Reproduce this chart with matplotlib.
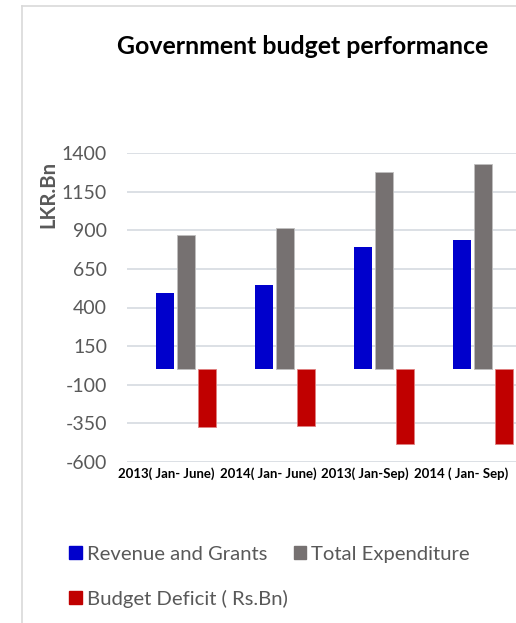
import matplotlib
matplotlib.use("Agg")
import matplotlib.pyplot as plt
from matplotlib.lines import Line2D
from matplotlib.patches import Patch
import numpy as np

categories = ["2013( Jan- June)", "2014( Jan- June)", "2013( Jan-Sep)", "2014 ( Jan- Sep)"]
revenue = [492, 546, 792, 838]
expenditure = [868, 918, 1281, 1329]
deficit = [-373, -368, -487, -485]
yticks = [1400, 1150, 900, 650, 400, 150, -100, -350, -600]

plt.rcParams['font.family'] = ['Lato', 'DejaVu Sans']

W, H = 516, 623
fig = plt.figure(figsize=(W/100, H/100), dpi=100)

def fx(px): return px / W
def fy(py): return 1 - py / H

# chart border
fig.add_artist(Line2D([fx(22), fx(22)], [fy(6), fy(623)], color='#D9D9D9', lw=1.2))
fig.add_artist(Line2D([fx(22), fx(516)], [fy(6), fy(6)], color='#D9D9D9', lw=1.2))

ax = fig.add_axes([fx(127), fy(461.7), fx(516) - fx(127), fy(153.3) - fy(461.7)])
x = np.arange(len(categories))
bw = 0.177
ax.bar(x - 0.212, revenue, bw, color='#0000CC', zorder=3)
ax.bar(x, expenditure, bw, color='#767171', edgecolor='#BFBFBF', linewidth=0.6, zorder=3)
ax.bar(x + 0.214, deficit, bw, color='#C00000', edgecolor='#E08080', linewidth=0.6, zorder=3)

ax.set_xlim(-0.596, 3.333)
ax.set_ylim(-600, 1400)
ax.set_yticks(yticks)
ax.set_yticklabels([str(v) for v in yticks])
ax.yaxis.grid(True, color='#D9DDE3', lw=1.3, zorder=0)
for s in ax.spines.values():
    s.set_visible(False)
ax.tick_params(axis='y', length=0, labelsize=14, labelcolor='#595959', pad=14.4)
ax.set_xticks([])

# x category labels, laid out one after another as in the reference
renderer = fig.canvas.get_renderer()
cur = 118
for lab in categories:
    t = fig.text(fx(cur), fy(474), lab, ha='left', va='center', fontsize=9.5,
                 fontweight='bold', color='#000000')
    bb = t.get_window_extent(renderer)
    cur = bb.x1 + 5

fig.text(fx(303), fy(46), "Government budget performance", ha='center', va='center',
         fontsize=17.9, fontweight='bold', color='#000000')
fig.text(fx(48), fy(194), "LKR.Bn", rotation=90, ha='center', va='center',
         fontsize=14.6, fontweight='bold', color='#595959')

handles = [Patch(color='#0000CC'), Patch(color='#C00000'), Patch(color='#767171')]
labels = ["Revenue and Grants", "Budget Deficit ( Rs.Bn)", "Total Expenditure"]
leg = fig.legend(handles, labels, ncol=2, loc='upper left',
                 bbox_to_anchor=(fx(69), fy(546)), frameon=False,
                 fontsize=14.6, labelcolor='#595959', handlelength=0.62, handleheight=0.62,
                 handletextpad=0.25, columnspacing=0.3, labelspacing=1.31,
                 borderaxespad=0, borderpad=0)

fig.savefig("out.png", dpi=100)
